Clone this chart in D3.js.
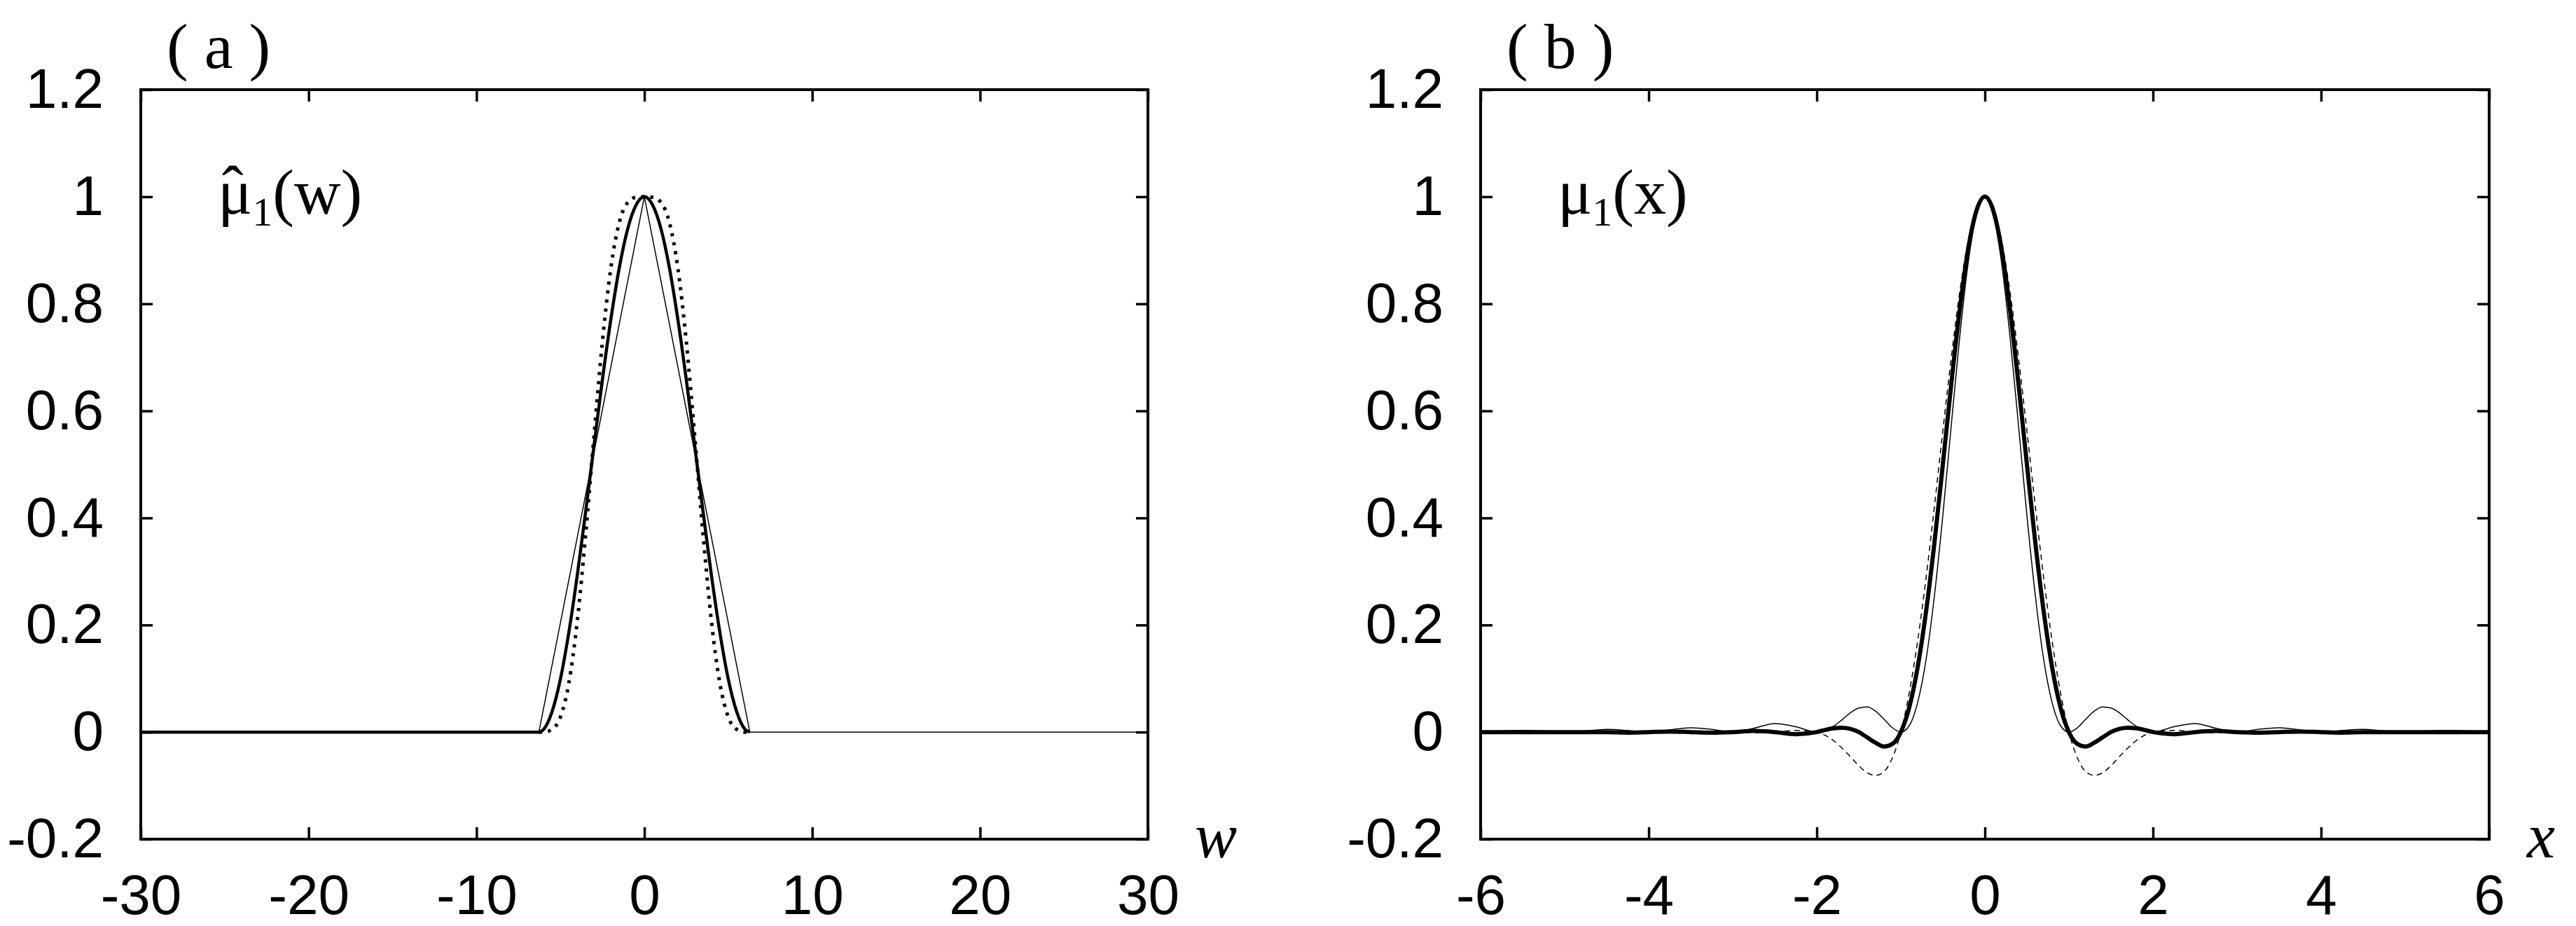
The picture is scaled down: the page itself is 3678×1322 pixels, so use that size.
<!DOCTYPE html>
<html>
<head>
<meta charset="utf-8">
<script src="https://cdn.jsdelivr.net/npm/d3@7"></script>
<style>
  body { margin: 0; background: #fff; }
</style>
</head>
<body>
<script>
// panel (a): w axis
var wTicks = [-30, -20, -10, 0, 10, 20, 30];
var wLabels = ['-30', '-20', '-10', '0', '10', '20', '30'];
// thin triangle
var wTri = [-30, -6.283, 0, 6.283, 30];
var muHatTri = [0, 0, 1, 0, 0];
// thick and dotted bells
var wBell = [-6.283, -6, -5.5, -5, -4.5, -4, -3.5, -3, -2.5, -2, -1.5, -1, -0.5, 0,
             0.5, 1, 1.5, 2, 2.5, 3, 3.5, 4, 4.5, 5, 5.5, 6, 6.283];
var muHatThick = [0, 0.005, 0.038, 0.099, 0.186, 0.292, 0.411, 0.535, 0.658, 0.770, 0.866, 0.939, 0.984, 1,
                  0.984, 0.939, 0.866, 0.770, 0.658, 0.535, 0.411, 0.292, 0.186, 0.099, 0.038, 0.005, 0];
var muHatDotted = [0, 0.000, 0.005, 0.028, 0.091, 0.206, 0.368, 0.553, 0.729, 0.866, 0.951, 0.989, 0.999, 1,
                   0.999, 0.989, 0.951, 0.866, 0.729, 0.553, 0.368, 0.206, 0.091, 0.028, 0.005, 0.000, 0];

// panel (b): x axis
var xTicks = [-6, -4, -2, 0, 2, 4, 6];
var xLabels = ['-6', '-4', '-2', '0', '2', '4', '6'];
var xGrid = [-6, -5.75, -5.5, -5.25, -5, -4.75, -4.5, -4.25, -4, -3.75, -3.5, -3.25, -3, -2.75, -2.5, -2.25,
             -2, -1.9, -1.8, -1.7, -1.6, -1.5, -1.4, -1.3, -1.2, -1.1, -1, -0.9, -0.8, -0.7, -0.6, -0.5, -0.4, -0.3, -0.2, -0.1,
             0, 0.1, 0.2, 0.3, 0.4, 0.5, 0.6, 0.7, 0.8, 0.9, 1, 1.1, 1.2, 1.3, 1.4, 1.5, 1.6, 1.7, 1.8, 1.9, 2,
             2.25, 2.5, 2.75, 3, 3.25, 3.5, 3.75, 4, 4.25, 4.5, 4.75, 5, 5.25, 5.5, 5.75, 6];
var muThin = [0, 0.002, 0.003, 0.002, 0, 0.002, 0.005, 0.003, 0, 0.004, 0.008, 0.005, 0, 0.007, 0.016, 0.010,
              0, 0.003, 0.011, 0.023, 0.036, 0.045, 0.047, 0.039, 0.024, 0.008, 0, 0.012, 0.055, 0.135, 0.255, 0.405, 0.573, 0.737, 0.875, 0.968,
              1, 0.968, 0.875, 0.737, 0.573, 0.405, 0.255, 0.135, 0.055, 0.012, 0, 0.008, 0.024, 0.039, 0.047, 0.045, 0.036, 0.023, 0.011, 0.003, 0,
              0.010, 0.016, 0.007, 0, 0.005, 0.008, 0.004, 0, 0.003, 0.005, 0.002, 0, 0.002, 0.003, 0.002, 0];
var muThick = [0, 0, 0, 0, 0, 0, 0, -0.001, 0, 0.001, 0, -0.001, 0, 0.002, 0, -0.004,
               0, 0.004, 0.007, 0.008, 0.006, 0, -0.010, -0.020, -0.027, -0.022, 0, 0.046, 0.121, 0.225, 0.354, 0.5, 0.650, 0.788, 0.901, 0.974,
               1, 0.974, 0.901, 0.788, 0.650, 0.5, 0.354, 0.225, 0.121, 0.046, 0, -0.022, -0.027, -0.020, -0.010, 0, 0.006, 0.008, 0.007, 0.004, 0,
               -0.004, 0, 0.002, 0, -0.001, 0, 0.001, 0, -0.001, 0, 0, 0, 0, 0, 0, 0];
var muDashed = [0, 0, 0, 0, 0, 0, 0, 0, 0, 0, 0, 0, 0, -0.001, 0, 0.003,
                0, -0.006, -0.016, -0.030, -0.046, -0.063, -0.076, -0.081, -0.074, -0.048, 0, 0.073, 0.170, 0.288, 0.422, 0.563, 0.699, 0.821, 0.917, 0.979,
                1, 0.979, 0.917, 0.821, 0.699, 0.563, 0.422, 0.288, 0.170, 0.073, 0, -0.048, -0.074, -0.081, -0.076, -0.063, -0.046, -0.030, -0.016, -0.006, 0,
                0.003, 0, -0.001, 0, 0, 0, 0, 0, 0, 0, 0, 0, 0, 0, 0, 0];

// shared y axis
var yTicks = [-0.2, 0, 0.2, 0.4, 0.6, 0.8, 1, 1.2];
var yLabels = ['-0.2', '0', '0.2', '0.4', '0.6', '0.8', '1', '1.2'];

var width = 3678, height = 1322;
var frameTop = 128, frameBottom = 1198;
var serif = '"Liberation Serif", "Times New Roman", serif';

var svg = d3.select('body')
            .append('svg')
            .attr('width', width)
            .attr('height', height)
            .style('background', '#fff');

function drawPanel(p) {
    var x = d3.scaleLinear().domain(p.domain).range([p.left, p.right]);
    var y = d3.scaleLinear().domain([-0.2, 1.2]).range([frameBottom, frameTop]);
    var g = svg.append('g');

    // ticks on all four sides, pointing inward
    var bottomAxis = g.append('g')
        .attr('transform', 'translate(0,' + frameBottom + ')')
        .call(d3.axisBottom(x).tickValues(p.ticks).tickFormat((d, i) => p.labels[i])
              .tickSizeInner(-17).tickSizeOuter(0).tickPadding(50));
    var topAxis = g.append('g')
        .attr('transform', 'translate(0,' + frameTop + ')')
        .call(d3.axisTop(x).tickValues(p.ticks).tickFormat('')
              .tickSizeInner(-17).tickSizeOuter(0));
    var leftAxis = g.append('g')
        .attr('transform', 'translate(' + p.left + ',0)')
        .call(d3.axisLeft(y).tickValues(yTicks).tickFormat((d, i) => yLabels[i])
              .tickSizeInner(-17).tickSizeOuter(0).tickPadding(53));
    var rightAxis = g.append('g')
        .attr('transform', 'translate(' + p.right + ',0)')
        .call(d3.axisRight(y).tickValues(yTicks).tickFormat('')
              .tickSizeInner(-17).tickSizeOuter(0));

    [bottomAxis, topAxis, leftAxis, rightAxis].forEach(function(a) {
        a.select('.domain').remove();
        a.selectAll('line').attr('stroke', '#000').attr('stroke-width', 3.5);
        a.attr('font-family', '"Liberation Sans", Arial, sans-serif').attr('font-size', 80);
        a.selectAll('text').attr('fill', '#000');
    });

    // frame
    g.append('rect')
        .attr('x', p.left)
        .attr('y', frameTop)
        .attr('width', p.right - p.left)
        .attr('height', frameBottom - frameTop)
        .attr('fill', 'none')
        .attr('stroke', '#000')
        .attr('stroke-width', 4);

    var line = d3.line()
        .x(d => x(d[0]))
        .y(d => y(d[1]));

    p.series.forEach(function(s) {
        line.curve(s.linear ? d3.curveLinear : d3.curveMonotoneX);
        g.append('path')
            .attr('d', line(d3.zip(s.xs, s.ys)))
            .attr('fill', 'none')
            .attr('stroke', '#000')
            .attr('stroke-width', s.width)
            .attr('stroke-dasharray', s.dash || null)
            .attr('stroke-linejoin', 'round');
    });

    // axis title
    g.append('text')
        .attr('x', p.titleX)
        .attr('y', 1224)
        .attr('font-family', serif)
        .attr('font-style', 'italic')
        .attr('font-size', 90)
        .text(p.title);

    // panel label
    g.append('text')
        .attr('x', p.left + 37)
        .attr('y', 97)
        .attr('font-family', serif)
        .attr('font-size', 92)
        .text(p.tag);

    // function label (the hat sits in the same text, placed over the mu)
    var fl = g.append('text')
        .attr('x', p.left + 110)
        .attr('y', 305)
        .attr('font-family', serif)
        .attr('font-size', 92);
    fl.append('tspan').text('μ');
    fl.append('tspan').attr('font-size', 58).attr('dy', 17).text('1');
    fl.append('tspan').attr('dy', -17).text('(' + p.arg + ')');
    if (p.hat) {
        fl.append('tspan')
            .attr('x', p.left + 131)
            .attr('y', 300)
            .attr('text-anchor', 'middle')
            .text('\u02C6');
    }
}

// Panel (a)
drawPanel({
    left: 201, right: 1639, domain: [-30, 30],
    ticks: wTicks, labels: wLabels,
    title: 'w', titleX: 1706, tag: '( a )', arg: 'w', hat: true,
    series: [
        {xs: [-30].concat(wBell), ys: [0].concat(muHatThick), width: 4.5},
        {xs: wTri, ys: muHatTri, width: 1.5, linear: true},
        {xs: wBell, ys: muHatDotted, width: 5, dash: '4.5 8.5'}
    ]
});

// Panel (b)
drawPanel({
    left: 2114, right: 3554, domain: [-6, 6],
    ticks: xTicks, labels: xLabels,
    title: 'x', titleX: 3608, tag: '( b )', arg: 'x', hat: false,
    series: [
        {xs: xGrid, ys: muThick, width: 6},
        {xs: xGrid, ys: muThin, width: 1.5},
        {xs: xGrid, ys: muDashed, width: 1.5, dash: '8 6'}
    ]
});
</script>
</body>
</html>
